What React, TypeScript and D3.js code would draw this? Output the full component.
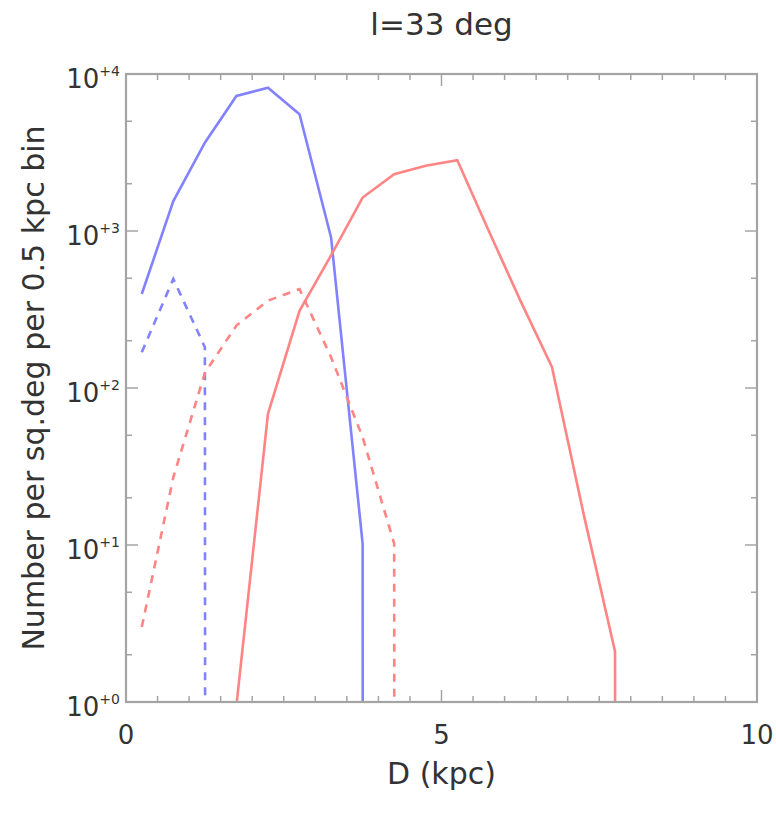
import React from "react";
import * as d3 from "d3";

// ---- data ----
const binCenters = [0.25, 0.75, 1.25, 1.75, 2.25, 2.75, 3.25, 3.75, 4.25, 4.75, 5.25, 5.75, 6.25, 6.75, 7.25, 7.75, 8.25];
const blueSolid = [397, 1550, 3650, 7250, 8180, 5540, 910, 10.2, 0, 0, 0, 0, 0, 0, 0, 0, 0];
const blueDashed = [169, 495, 182, 0, 0, 0, 0, 0, 0, 0, 0, 0, 0, 0, 0, 0, 0];
const redSolid = [0, 0, 0, 0.95, 68.5, 310, 700, 1634, 2300, 2605, 2827, 1000, 360, 136, 15.9, 2.1, 0];
const redDashed = [3.0, 27, 125, 250, 360, 427, 157, 48.6, 10.2, 0, 0, 0, 0, 0, 0, 0, 0];

const xMajorTicks = [0, 5, 10];
const xTickLabels = ["0", "5", "10"];
const yDecades = [0, 1, 2, 3, 4];
const yMinorFactors = [2, 5];

const titleText = "l=33 deg";
const xTitle = "D (kpc)";
const yTitle = "Number per sq.deg per 0.5 kpc bin";

// ---- layout ----
const W = 776;
const H = 817;
const M = { left: 126, right: 757, top: 74, bottom: 702 };
const FONT = "'DejaVu Sans', Verdana, sans-serif";
const ZERO_FLOOR = 1e-300; // how a zero bin is drawn on a log axis (far below the frame, clipped)

const BLUE = "#8282ff";
const RED = "#ff8484";
const AXIS = "#a4a4a4";
const TEXT = "#333";

export default function App() {
  const x = d3.scaleLinear().domain([0, 10]).range([M.left, M.right]);
  const y = d3.scaleLog().domain([1, 1e4]).range([M.bottom, M.top]);

  const line = d3
    .line<[number, number]>()
    .x((d) => x(d[0]))
    .y((d) => y(d[1] > 0 ? d[1] : ZERO_FLOOR));

  const series = [
    { vals: blueSolid, color: BLUE, dash: undefined },
    { vals: blueDashed, color: BLUE, dash: "8,7" },
    { vals: redSolid, color: RED, dash: undefined },
    { vals: redDashed, color: RED, dash: "8,7" },
  ];

  const xTicks = d3.range(0, 10.001, 0.5);
  const majorLen = 12;
  const minorLen = 6;

  const yMajor = yDecades.map((d) => Math.pow(10, d));
  const yMinor: number[] = [];
  yDecades.slice(0, -1).forEach((d) => yMinorFactors.forEach((f) => yMinor.push(f * Math.pow(10, d))));

  return (
    <svg
      width={W}
      height={H}
      viewBox={`0 0 ${W} ${H}`}
      style={{ position: "absolute", left: 0, top: 0, background: "#fff" }}
      fontFamily={FONT}
    >
      <defs>
        <clipPath id="plotClip">
          <rect x={M.left} y={M.top} width={M.right - M.left} height={M.bottom - M.top} />
        </clipPath>
      </defs>
      <rect x={0} y={0} width={W} height={H} fill="#fff" />

      {/* data lines */}
      <g clipPath="url(#plotClip)">
        {series.map((s, i) => (
          <path
            key={i}
            d={line(binCenters.map((c, j) => [c, s.vals[j]] as [number, number])) || ""}
            fill="none"
            stroke={s.color}
            strokeWidth={2.6}
            strokeDasharray={s.dash}
            strokeLinejoin="miter"
          />
        ))}
      </g>

      {/* frame */}
      <rect
        x={M.left}
        y={M.top}
        width={M.right - M.left}
        height={M.bottom - M.top}
        fill="none"
        stroke={AXIS}
        strokeWidth={2.2}
      />

      {/* x ticks (bottom and top, inward) */}
      {xTicks.map((t) => {
        const len = t % 5 === 0 ? majorLen : minorLen;
        const px = x(t);
        return (
          <g key={"xt" + t} stroke={AXIS} strokeWidth={1.5}>
            <line x1={px} x2={px} y1={M.bottom} y2={M.bottom - len} />
            <line x1={px} x2={px} y1={M.top} y2={M.top + len} />
          </g>
        );
      })}

      {/* y ticks (left and right, inward) */}
      {yMajor.map((v) => (
        <g key={"ym" + v} stroke={AXIS} strokeWidth={1.5}>
          <line x1={M.left} x2={M.left + majorLen} y1={y(v)} y2={y(v)} />
          <line x1={M.right} x2={M.right - majorLen} y1={y(v)} y2={y(v)} />
        </g>
      ))}
      {yMinor.map((v) => (
        <g key={"yn" + v} stroke={AXIS} strokeWidth={1.5}>
          <line x1={M.left} x2={M.left + minorLen} y1={y(v)} y2={y(v)} />
          <line x1={M.right} x2={M.right - minorLen} y1={y(v)} y2={y(v)} />
        </g>
      ))}

      {/* x tick labels */}
      {xMajorTicks.map((t, i) => (
        <text key={"xl" + t} x={x(t)} y={M.bottom + 42} textAnchor="middle" fontSize={26} fill={TEXT}>
          {xTickLabels[i]}
        </text>
      ))}

      {/* y tick labels: 10^+n */}
      {yDecades.map((d) => (
        <text key={"yl" + d} x={M.left - 6} y={y(Math.pow(10, d)) + 14} textAnchor="end" fontSize={26} fill={TEXT}>
          10
          <tspan fontSize={14} dy={-12}>
            {"+" + d}
          </tspan>
        </text>
      ))}

      {/* titles */}
      <text x={(M.left + M.right) / 2} y={35} textAnchor="middle" fontSize={31} fill={TEXT}>
        {titleText}
      </text>
      <text x={(M.left + M.right) / 2} y={784} textAnchor="middle" fontSize={30} fill={TEXT}>
        {xTitle}
      </text>
      <text
        transform={`translate(44, ${(M.top + M.bottom) / 2}) rotate(-90)`}
        textAnchor="middle"
        fontSize={30}
        fill={TEXT}
      >
        {yTitle}
      </text>
    </svg>
  );
}
